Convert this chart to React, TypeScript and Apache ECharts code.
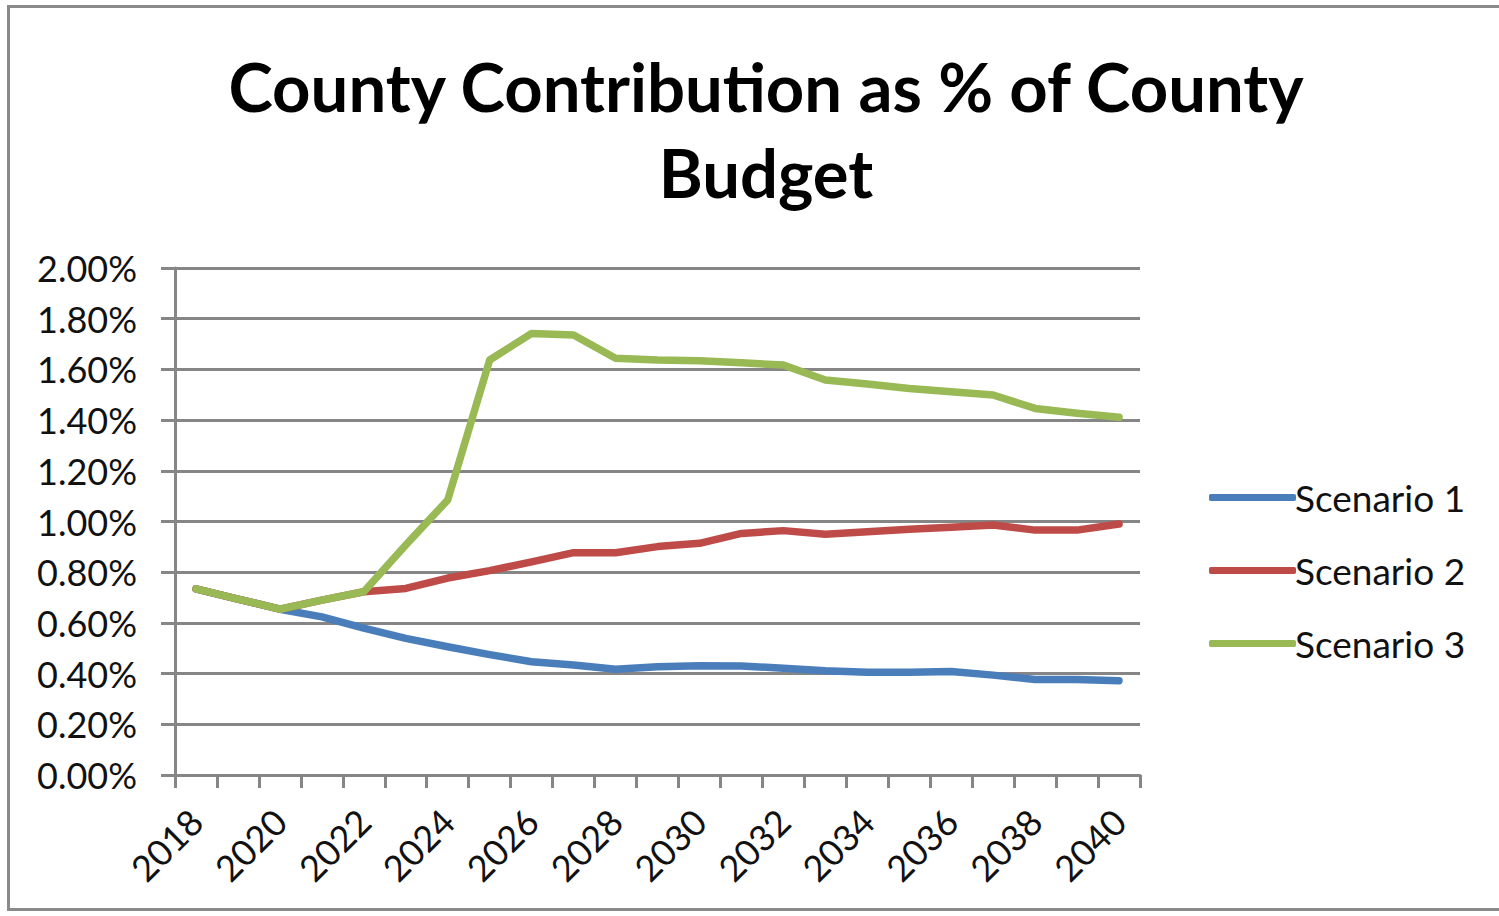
import React, { useEffect, useRef } from "react";
import * as echarts from "echarts";

const years = [
  "2018", "2019", "2020", "2021", "2022", "2023", "2024", "2025", "2026", "2027", "2028", "2029",
  "2030", "2031", "2032", "2033", "2034", "2035", "2036", "2037", "2038", "2039", "2040",
];
const scenario1 = [
  0.734, 0.694, 0.654, 0.624, 0.579, 0.539, 0.506, 0.475, 0.447, 0.434, 0.417, 0.427,
  0.431, 0.43, 0.421, 0.411, 0.405, 0.405, 0.408, 0.394, 0.377, 0.377, 0.372,
];
const scenario2 = [
  0.734, 0.694, 0.654, 0.69, 0.723, 0.736, 0.777, 0.806, 0.841, 0.877, 0.877, 0.901,
  0.914, 0.953, 0.964, 0.95, 0.96, 0.969, 0.977, 0.986, 0.966, 0.966, 0.99,
];
const scenario3 = [
  0.734, 0.694, 0.654, 0.69, 0.723, 0.907, 1.085, 1.637, 1.742, 1.736, 1.644, 1.637,
  1.634, 1.626, 1.617, 1.558, 1.542, 1.525, 1.512, 1.499, 1.446, 1.427, 1.411,
];
const seriesNames = ["Scenario 1", "Scenario 2", "Scenario 3"];
const colors = ["#4a7ebb", "#be4b48", "#98b954"];

const FONT = "Lato";

export default function App() {
  const ref = useRef<HTMLDivElement>(null);
  useEffect(() => {
    if (!ref.current) return;
    const chart = echarts.init(ref.current, null, { renderer: "svg" });
    const data = [scenario1, scenario2, scenario3];
    chart.setOption({
      animation: false,
      backgroundColor: "#ffffff",
      title: {
        text: "County Contribution as % of County\nBudget",
        left: 761,
        top: 38,
        textAlign: "center",
        textStyle: {
          fontFamily: FONT,
          fontWeight: "bold",
          fontSize: 67,
          lineHeight: 86,
          color: "#000",
        },
      },
      legend: {
        orient: "vertical",
        left: 1204,
        top: 474,
        itemWidth: 87,
        itemHeight: 7,
        itemGap: 36,
        icon: "roundRect",
        data: seriesNames,
        textStyle: { fontFamily: FONT, fontSize: 37, color: "#111", padding: [0, 0, 0, -6] },
      },
      grid: { left: 175, right: 359, top: 268, bottom: 141, containLabel: false },
      xAxis: {
        type: "category",
        data: years,
        boundaryGap: true,
        axisLine: { lineStyle: { color: "#868686", width: 3 } },
        axisTick: { show: true, interval: 0, length: 13, lineStyle: { color: "#868686", width: 3 } },
        axisLabel: {
          interval: 1,
          rotate: 45,
          margin: 40,
          fontFamily: FONT,
          fontSize: 36,
          color: "#111",
        },
        splitLine: { show: false },
      },
      yAxis: {
        type: "value",
        min: 0,
        max: 2,
        interval: 0.2,
        axisLine: { show: true, lineStyle: { color: "#868686", width: 3 } },
        axisTick: { show: true, length: 14, lineStyle: { color: "#868686", width: 3 } },
        axisLabel: {
          formatter: (v: number) => v.toFixed(2) + "%",
          fontFamily: FONT,
          fontSize: 36,
          color: "#111",
          margin: 38,
        },
        splitLine: { show: true, lineStyle: { color: "#868686", width: 3 } },
      },
      series: seriesNames.map((name, i) => ({
        name,
        type: "line",
        data: data[i],
        symbol: "none",
        lineStyle: { color: colors[i], width: 7.5, cap: "round", join: "round" },
        itemStyle: { color: colors[i] },
        z: 2 + i,
      })),
    });
    return () => chart.dispose();
  }, []);
  return (
    <div style={{ position: "fixed", left: 0, top: 0, width: 1499, height: 916, background: "#fff" }}>
      <div ref={ref} style={{ position: "absolute", left: 0, top: 0, width: 1499, height: 916 }} />
      <div
        style={{
          position: "absolute",
          left: 7,
          top: 5,
          width: 1499,
          height: 906,
          border: "3px solid #8a8a8a",
          boxSizing: "border-box",
          pointerEvents: "none",
        }}
      />
    </div>
  );
}
